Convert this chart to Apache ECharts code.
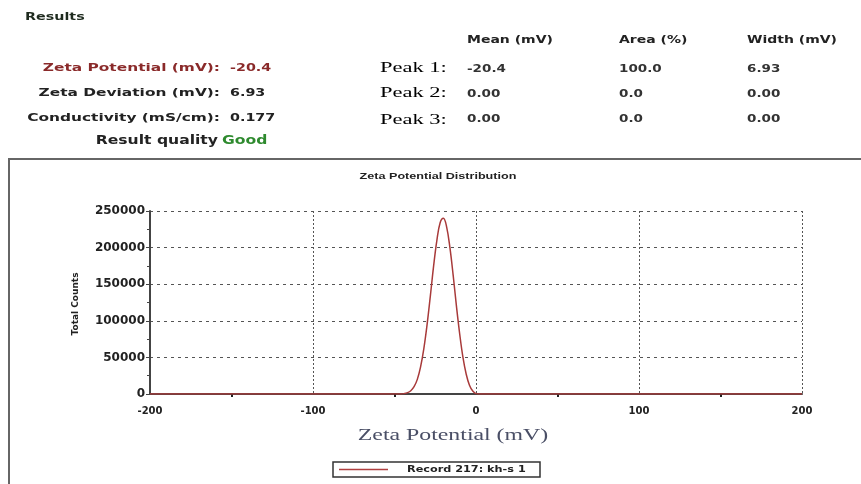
<!DOCTYPE html>
<html>
<head>
<meta charset="utf-8">
<script src="https://cdn.jsdelivr.net/npm/echarts@6/dist/echarts.min.js"></script>
<style>
  html, body { margin: 0; padding: 0; background: #fff; }
  #main { width: 861px; height: 484px; }
</style>
</head>
<body>
<div id="main"></div>
<script>
// values
var zetaMv = [-200, -46, -44, -42, -40, -38, -36, -34, -32, -30, -28, -26, -24, -22, -20,
              -18, -16, -14, -12, -10, -8, -6, -4, -2, 0, 2, 200];
var totalCounts = [0, 0, 500, 1800, 4500, 10000, 20000, 37000, 62000, 95000, 134000, 175000, 210000, 234000, 240000,
                   228000, 200000, 162000, 120000, 82000, 50000, 27000, 12000, 4000, 500, 0, 0];

var resultLabels = ['Zeta Potential (mV):', 'Zeta Deviation (mV):', 'Conductivity (mS/cm):'];
var resultValues = ['-20.4', '6.93', '0.177'];
var peakNames = ['1', '2', '3'];
var peakHeaders = ['Mean (mV)', 'Area (%)', 'Width (mV)'];
var peakRows = [
  ['-20.4', '100.0', '6.93'],
  ['0.00', '0.0', '0.00'],
  ['0.00', '0.0', '0.00']
];
var recordName = 'Record 217: kh-s 1';

var chart = echarts.init(document.getElementById('main'));

var font = 'DejaVu Sans';
var rowY = [68, 93, 118];
var peakY = [68, 93, 120];
var colX = [467, 619, 747];

// text helper, the source picture is stretched sideways
function txt(x, y, s, css, fill, align, sx) {
  return { type: 'text', x: x, y: y, scaleX: sx || 1,
    style: { text: s, font: css, fill: fill, textAlign: align || 'left', textVerticalAlign: 'middle' } };
}

var g = [];
g.push(txt(25, 17, 'Results', 'bold 11px "DejaVu Sans"', '#1e2a1e', 'left', 1.3));

resultLabels.forEach(function (lab, i) {
  var c = i == 0 ? '#8a2a2a' : '#222';
  g.push(txt(220, rowY[i], lab, 'bold 11px "DejaVu Sans"', c, 'right', 1.4));
  g.push(txt(230, rowY[i], resultValues[i], 'bold 11px "DejaVu Sans"', c, 'left', 1.3));
});
g.push(txt(218, 141, 'Result quality', 'bold 12px "DejaVu Sans"', '#222', 'right', 1.3));
g.push(txt(222, 141, 'Good', 'bold 12px "DejaVu Sans"', '#2e8a2e', 'left', 1.3));

peakHeaders.forEach(function (h, j) {
  g.push(txt(colX[j], 40, h, 'bold 10px "DejaVu Sans"', '#222', 'left', 1.4));
});
peakNames.forEach(function (p, i) {
  g.push({ type: 'text', x: 380, y: peakY[i], scaleX: 1.5,
    style: { text: '{a|Peak }{b|' + p + '}{a|:}', textVerticalAlign: 'middle',
      rich: { a: { fontFamily: 'Liberation Serif', fontSize: 15, color: '#5a5a66' },
              b: { fontFamily: 'Liberation Serif', fontSize: 15, color: '#4f86c6' } } } });
  peakRows[i].forEach(function (v, j) {
    g.push(txt(colX[j], rowY[i] + 1, v, 'bold 10px "DejaVu Sans"', '#333', 'left', 1.35));
  });
});

// chart frame and the texts drawn around the plot
g.push({ type: 'rect', shape: { x: 9, y: 159, width: 860, height: 340 },
  style: { fill: 'none', stroke: '#666', lineWidth: 2 } });
g.push(txt(438, 177, 'Zeta Potential Distribution', 'bold 9px "Liberation Sans"', '#222', 'center', 1.4));
g.push({ type: 'text', x: 76, y: 304, rotation: Math.PI / 2,
  style: { text: 'Total Counts', font: 'bold 9px "DejaVu Sans"', fill: '#222', textAlign: 'center', textVerticalAlign: 'middle' } });
g.push(txt(453, 436, 'Zeta Potential (mV)', '17px "Liberation Serif"', '#4a4f66', 'center', 1.4));

// legend box
g.push({ type: 'rect', shape: { x: 333, y: 462, width: 207, height: 15 },
  style: { fill: '#fff', stroke: '#333', lineWidth: 1.5 } });
g.push({ type: 'line', shape: { x1: 339, y1: 469.5, x2: 388, y2: 469.5 },
  style: { stroke: '#b04040', lineWidth: 1.6 } });
g.push(txt(407, 470, recordName, 'bold 9px "DejaVu Sans"', '#222', 'left', 1.25));

var option = {
  animation: false,
  grid: { left: 150, right: 59, top: 211, bottom: 90 },
  xAxis: {
    type: 'value', min: -200, max: 200, interval: 100,
    axisLine: { show: true, onZero: false, lineStyle: { color: '#444', width: 2 } },
    axisTick: { show: false },
    minorTick: { show: true, splitNumber: 2, length: 3, lineStyle: { color: '#222', width: 2 } },
    axisLabel: { fontFamily: font, fontSize: 10, fontWeight: 'bold', color: '#222', margin: 12 },
    splitLine: { show: true, lineStyle: { color: '#555', type: [2, 2], width: 1 } }
  },
  yAxis: {
    type: 'value', min: 0, max: 250000, interval: 50000,
    axisLine: { show: true, onZero: false, lineStyle: { color: '#444', width: 2 } },
    axisTick: { show: true, length: 4, lineStyle: { color: '#444' } },
    minorTick: { show: true, splitNumber: 2, length: 3, lineStyle: { color: '#444' } },
    axisLabel: { fontFamily: font, fontSize: 12, fontWeight: 'bold', color: '#222', margin: 5,
                 formatter: function (v) { return String(v); } },
    splitLine: { show: true, lineStyle: { color: '#555', type: [3, 4], width: 1 } }
  },
  series: [{
    name: recordName,
    type: 'line',
    data: zetaMv.map(function (x, i) { return [x, totalCounts[i]]; }),
    smooth: 0.4,
    symbol: 'none',
    lineStyle: { color: '#a83a3a', width: 1.5 }
  }],
  graphic: g
};

chart.setOption(option);
</script>
</body>
</html>
